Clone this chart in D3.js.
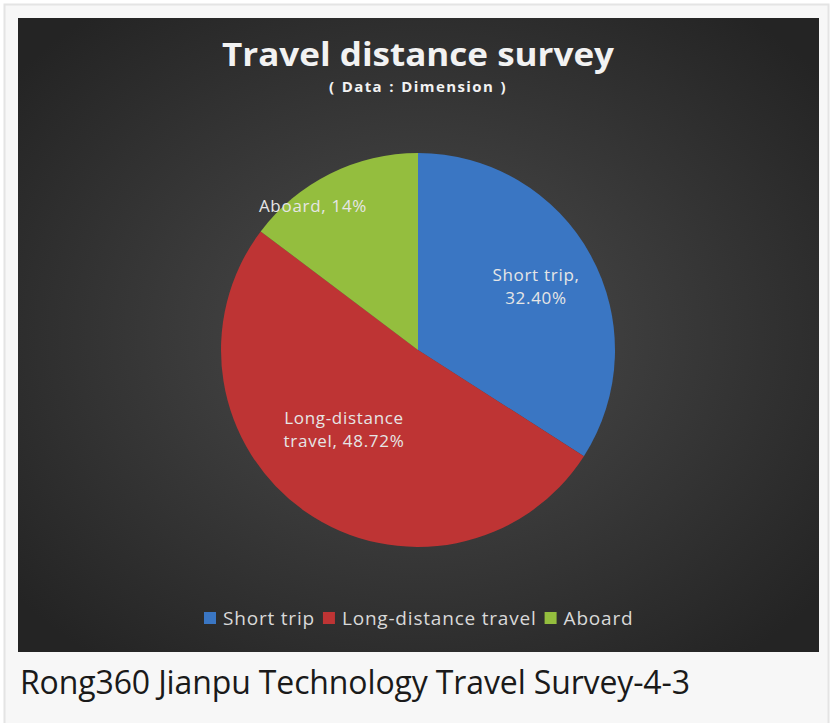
<!DOCTYPE html>
<html><head><meta charset="utf-8">
<script src="https://cdn.jsdelivr.net/npm/d3@7"></script>
<style>body{margin:0;background:#fff;}</style>
</head><body>
<svg id="c" width="833" height="723"></svg>
<script>
const categories = ["Short trip", "Long-distance travel", "Aboard"];
const values = [32.40, 48.72, 14];
const labels = [["Short trip,", "32.40%"], ["Long-distance", "travel, 48.72%"], ["Aboard, 14%"]];
const colors = ["#3a76c3", "#be3434", "#94be3e"];
const titleText = "Travel distance survey";
const subtitleText = "( Data : Dimension )";
const captionText = "Rong360 Jianpu Technology Travel Survey-4-3";

const svg = d3.select("#c");
const defs = svg.append("defs");
const rg = defs.append("radialGradient").attr("id", "bg").attr("cx", "50%").attr("cy", "50%").attr("r", "65%");
rg.append("stop").attr("offset", "0%").attr("stop-color", "#4d4d4d");
rg.append("stop").attr("offset", "100%").attr("stop-color", "#242424");

// outer frame
svg.append("rect").attr("x", 0).attr("y", 0).attr("width", 833).attr("height", 723).attr("fill", "#ffffff");
svg.append("rect").attr("x", 4.5).attr("y", 4.5).attr("width", 824).attr("height", 730).attr("fill", "#f7f7f7").attr("stroke", "#e4e4e4").attr("stroke-width", 2);
svg.append("rect").attr("x", 18).attr("y", 18).attr("width", 801).attr("height", 634).attr("fill", "url(#bg)");

svg.append("text").attr("x", 418).attr("y", 66).attr("text-anchor", "middle")
  .attr("font-family", "'Open Sans', sans-serif").attr("font-weight", "bold").attr("font-size", 32)
  .attr("fill", "#f2f2f2").attr("textLength", 392).attr("lengthAdjust", "spacingAndGlyphs").text(titleText);
svg.append("text").attr("x", 418).attr("y", 92).attr("text-anchor", "middle")
  .attr("font-family", "'Open Sans', sans-serif").attr("font-weight", "bold").attr("font-size", 15)
  .attr("fill", "#f2f2f2").attr("letter-spacing", 1.4).attr("word-spacing", 1).text(subtitleText);

const cx = 418, cy = 350, R = 197;
const pie = d3.pie().sort(null).value(d => d)(values);
const arc = d3.arc().innerRadius(0).outerRadius(R);
const g = svg.append("g").attr("transform", `translate(${cx},${cy})`);
g.selectAll("path").data(pie).enter().append("path").attr("d", arc).attr("fill", (d, i) => colors[i]);

const labelPos = [[536, 281], [344, 424], [313, 212]];
const lblFont = "'Open Sans', sans-serif";
labels.forEach((ls, i) => {
  ls.forEach((s, j) => {
    svg.append("text").attr("text-anchor", "middle").attr("font-family", lblFont).attr("font-size", 17)
      .attr("letter-spacing", 0.7).attr("fill", "#e6e6e6")
      .attr("x", labelPos[i][0]).attr("y", labelPos[i][1] + j * 23).text(s);
  });
});

// legend
const legend = svg.append("g").attr("font-family", lblFont).attr("font-size", 19).attr("letter-spacing", 0.8).attr("fill", "#d9d9d9");
let lx = 204;
categories.forEach((c, i) => {
  legend.append("rect").attr("x", lx).attr("y", 612).attr("width", 12).attr("height", 12).attr("fill", colors[i]);
  const t = legend.append("text").attr("x", lx + 19).attr("y", 625).text(c);
  const w = t.node().getComputedTextLength();
  lx += 19 + w + 8;
});

svg.append("text").attr("x", 20).attr("y", 694).attr("font-family", "'Open Sans', sans-serif")
  .attr("font-size", 32).attr("fill", "#1a1a1a").attr("textLength", 670).text(captionText);
</script>
</body></html>
